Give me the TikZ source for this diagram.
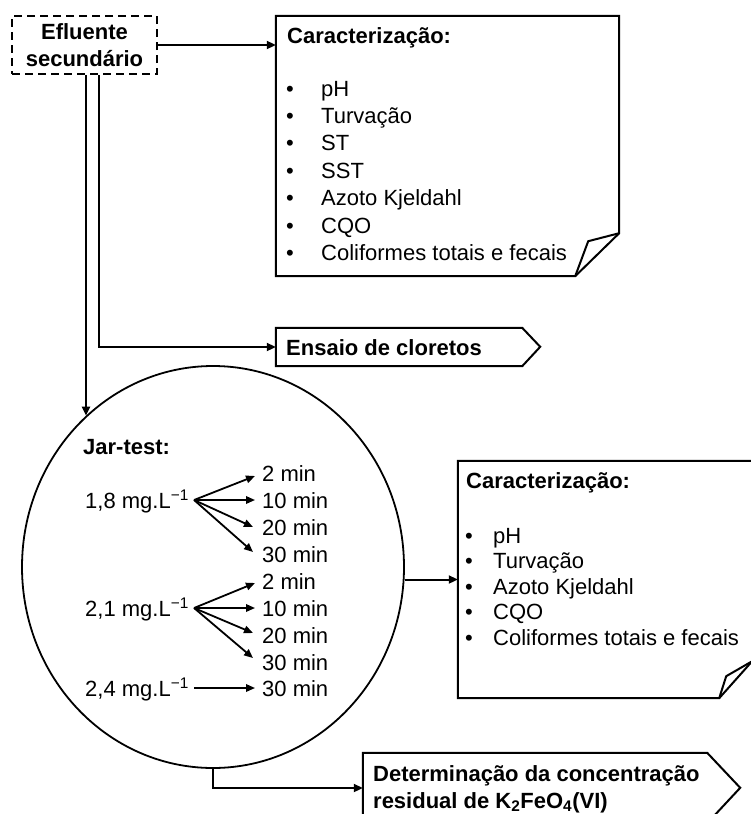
\documentclass[tikz,border=0pt]{standalone}
\usepackage{fontspec}
\setmainfont{Liberation Sans}
\usetikzlibrary{shapes.geometric,arrows.meta,calc}
\begin{document}
\begin{tikzpicture}[x=1pt,y=-1pt,
  txt/.style={inner sep=0pt, font=\fontsize{22}{27}\selectfont, text height=16pt, text depth=0pt, anchor=base west},
  btxt/.style={txt, font=\bfseries\fontsize{22}{27}\selectfont},
  area/.style={inner sep=0pt},
  bx/.style={line width=2pt, line join=miter},
  con/.style={line width=2pt, -{Triangle[length=9pt,width=8pt]}},
  sm/.style={line width=1.8pt, -{Triangle[length=9pt,width=7.5pt]}}]
\useasboundingbox (0,0) rectangle (751,814);
\clip (0,0) rectangle (751,814);

% Efluente secundario
\node[draw, bx, dash pattern=on 8pt off 5pt, minimum width=145pt, minimum height=58pt,
      inner sep=0pt, align=center, font=\bfseries\fontsize{22}{27}\selectfont] (efl) at (84.5,45) {Efluente\\secundário};

% Caracterizacao 1
\node[area, minimum width=343pt, minimum height=260pt] (car1) at (447.5,146) {};
\draw[bx] (car1.north west) -- (car1.north east) -- ($(car1.south east)+(0,-43)$)
  -- ($(car1.south east)+(-44,0)$) -- (car1.south west) -- cycle;
\draw[bx, line join=round] ($(car1.south east)+(0,-43)$) -- ($(car1.south east)+(-31,-35)$) -- ($(car1.south east)+(-44,0)$);
\node[btxt] (c1t) at (287,43) {Caracterização:};
\node[txt] (c1a) at (286,96) {\makebox[35pt][l]{•}pH};
\node[txt] (c1b) at (286,123.4) {\makebox[35pt][l]{•}Turvação};
\node[txt] (c1c) at (286,150.8) {\makebox[35pt][l]{•}ST};
\node[txt] (c1d) at (286,178.2) {\makebox[35pt][l]{•}SST};
\node[txt] (c1e) at (286,205.6) {\makebox[35pt][l]{•}Azoto Kjeldahl};
\node[txt] (c1f) at (286,233) {\makebox[35pt][l]{•}CQO};
\node[txt] (c1g) at (286,260.4) {\makebox[35pt][l]{•}Coliformes totais e fecais};

% Ensaio de cloretos
\node[area, minimum width=246pt, minimum height=38pt] (ens) at (399,347) {};
\draw[bx] (ens.north west) -- (ens.north east) -- ++(18,19) -- (ens.south east) -- (ens.south west) -- cycle;
\node[btxt] (enst) at (286,355) {Ensaio de cloretos};

% Jar-test
\node[draw, ellipse, line width=1.8pt, minimum width=382pt, minimum height=402pt, inner sep=0pt] (jar) at (213,567) {};
\node[btxt] (jt) at (83,454) {Jar-test:};
\node[txt] (c18) at (85,508) {1,8 mg.L\textsuperscript{−1}};
\node[txt] (c21) at (85,616) {2,1 mg.L\textsuperscript{−1}};
\node[txt] (c24) at (85,696) {2,4 mg.L\textsuperscript{−1}};
\node[txt] (t11) at (262,481) {2 min};
\node[txt] (t12) at (262,508) {10 min};
\node[txt] (t13) at (262,535) {20 min};
\node[txt] (t14) at (262,562) {30 min};
\node[txt] (t21) at (262,589) {2 min};
\node[txt] (t22) at (262,616) {10 min};
\node[txt] (t23) at (262,643) {20 min};
\node[txt] (t24) at (262,670) {30 min};
\node[txt] (t31) at (262,696) {30 min};
\draw[sm] ([xshift=5pt]c18.east) -- ([shift={(-7pt,-3pt)}]t11.west);
\draw[sm] ([xshift=5pt]c18.east) -- ([xshift=-7pt]t12.west);
\draw[sm] ([xshift=5pt]c18.east) -- ([shift={(-9pt,0pt)}]t13.west);
\draw[sm] ([xshift=5pt]c18.east) -- ([shift={(-9pt,2pt)}]t14.west);
\draw[sm] ([xshift=5pt]c21.east) -- ([shift={(-7pt,-2pt)}]t21.west);
\draw[sm] ([xshift=5pt]c21.east) -- ([xshift=-7pt]t22.west);
\draw[sm] ([xshift=5pt]c21.east) -- ([shift={(-9pt,2pt)}]t23.west);
\draw[sm] ([xshift=5pt]c21.east) -- ([shift={(-9pt,4pt)}]t24.west);
\draw[sm] ([xshift=5pt]c24.east) -- ([xshift=-7pt]t31.west);

% Caracterizacao 2
\node[area, minimum width=294pt, minimum height=237pt] (car2) at (605,579.5) {};
\draw[bx] (car2.north west) -- (car2.north east) -- ($(car2.south east)+(0,-37)$)
  -- ($(car2.south east)+(-33,0)$) -- (car2.south west) -- cycle;
\draw[bx, line join=round] ($(car2.south east)+(0,-37)$) -- ($(car2.south east)+(-26,-22)$) -- ($(car2.south east)+(-33,0)$);
\node[btxt] (c2t) at (466,488) {Caracterização:};
\node[txt] (c2a) at (465,543) {\makebox[28pt][l]{•}pH};
\node[txt] (c2b) at (465,568.5) {\makebox[28pt][l]{•}Turvação};
\node[txt] (c2c) at (465,594) {\makebox[28pt][l]{•}Azoto Kjeldahl};
\node[txt] (c2d) at (465,619.5) {\makebox[28pt][l]{•}CQO};
\node[txt] (c2e) at (465,645) {\makebox[28pt][l]{•}Coliformes totais e fecais};

% Determinacao
\node[area, minimum width=344pt, minimum height=70pt] (det) at (535,788) {};
\draw[bx] (det.north west) -- (det.north east) -- ++(33,35) -- (det.south east) -- (det.south west) -- cycle;
\node[btxt] (dt1) at (373,781) {Determinação da concentração};
\node[btxt] (dt2) at (373,808) {residual de K\textsubscript{2}FeO\textsubscript{4}(VI)};

% connectors
\coordinate (ea) at ($(efl.south)+(1.5,0)$);
\coordinate (eb) at ($(efl.south)+(14.5,0)$);
\draw[con] (efl.east) -- (efl.east -| car1.west);
\draw[con] (ea) -- (ea |- jar.130);
\draw[con] (eb) |- (ens.west);
\draw[con] (jar.east |- car2.west) -- (car2.west);
\draw[con] (jar.south) |- (det.west);
\end{tikzpicture}
\end{document}
